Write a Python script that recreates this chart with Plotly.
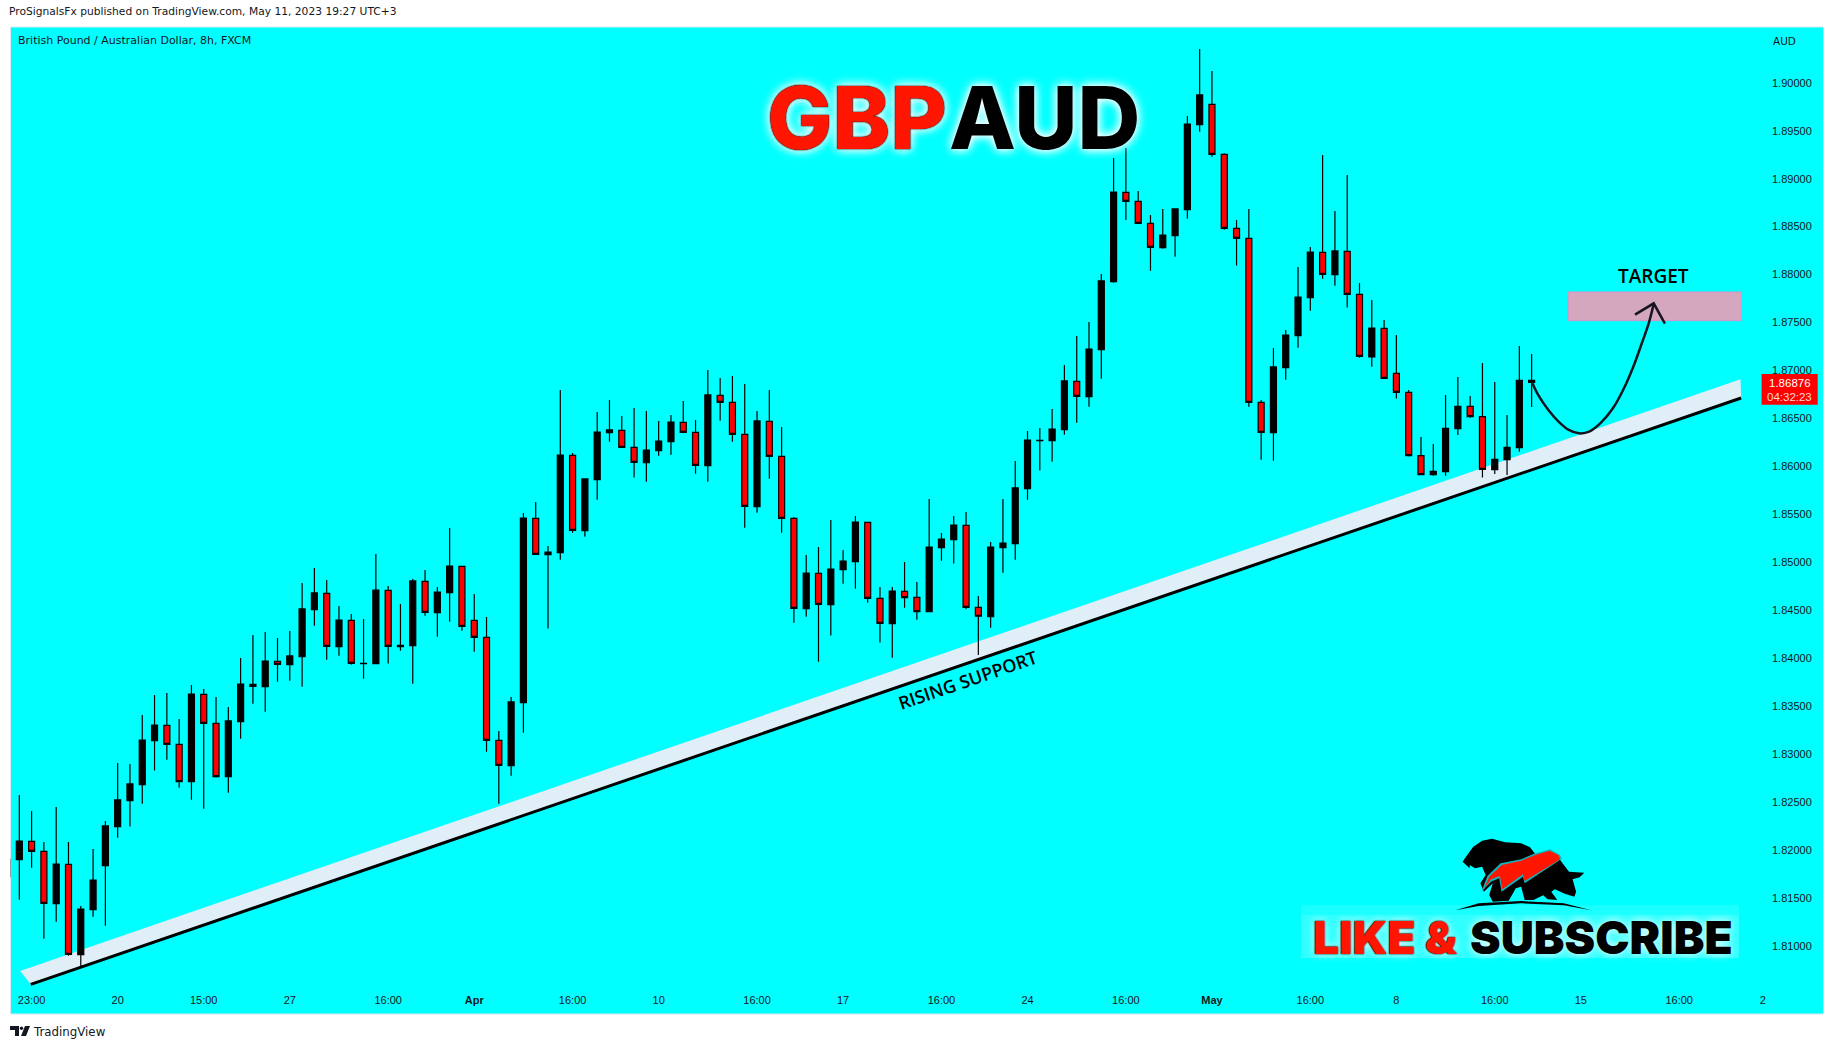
import plotly.graph_objects as go

# Candles: wick top, body top, body bottom, wick bottom, direction (1 = black/up, 0 = red/down)
highs = [1.81901,1.82572,1.82405,1.82082,1.82447,1.82082,1.81414,1.82009,1.82301,1.82906,1.82895,1.83406,1.83615,1.83636,1.83364,1.83719,1.83677,1.83594,1.83490,1.84001,1.84241,1.84272,1.84209,1.84282,1.84783,
1.84939,1.84814,1.84543,1.84460,1.84407,1.85085,1.84752,1.84564,1.84825,1.84918,1.84741,1.85357,1.84960,1.84668,1.84428,1.83239,1.83594,1.85513,1.85628,1.85169,1.86796,1.86139,1.85868,1.86566,1.86692,
1.86525,1.86608,1.86577,1.86473,1.86535,1.86681,1.86483,1.87004,1.86921,1.86942,1.86858,1.86577,1.86796,1.86410,1.85471,1.85075,1.85158,1.85440,1.85127,1.85482,1.85419,1.84741,1.84741,1.85002,1.84793,
1.85659,1.85304,1.85482,1.85523,1.84647,1.85211,1.85659,1.86055,1.86368,1.86400,1.86598,1.87057,1.87359,1.87505,1.88006,1.89216,1.89320,1.88871,1.88621,1.88684,1.88684,1.89654,1.90352,1.90123,1.89264,
1.88569,1.88684,1.86692,1.87234,1.87422,1.88079,1.88287,1.89247,1.88663,1.89038,1.87912,1.87735,1.87526,1.87370,1.86796,1.86306,1.86233,1.86744,1.86931,1.86733,1.87078,1.86879,1.86535,1.87255,1.87171]
body_tops = [1.81901,1.82092,1.82089,1.81984,1.81852,1.81849,1.81383,1.81685,1.82249,1.82520,1.82687,1.83145,1.83302,1.83298,1.83100,1.83625,1.83622,1.83319,1.83344,1.83729,1.83726,1.83969,1.83966,1.84022,1.84512,
1.84679,1.84675,1.84397,1.84394,1.83945,1.84710,1.84706,1.84133,1.84804,1.84800,1.84689,1.84960,1.84957,1.84394,1.84216,1.83142,1.83542,1.85461,1.85457,1.85106,1.86118,1.86114,1.85868,1.86358,1.86379,
1.86375,1.86198,1.86170,1.86264,1.86462,1.86459,1.86354,1.86744,1.86740,1.86667,1.86333,1.86473,1.86469,1.86104,1.85457,1.84887,1.84884,1.84929,1.85012,1.85419,1.85416,1.84623,1.84699,1.84696,1.84633,
1.85158,1.85242,1.85388,1.85384,1.84529,1.85158,1.85200,1.85774,1.86274,1.86271,1.86389,1.86890,1.86886,1.87223,1.87933,1.88861,1.88857,1.88764,1.88534,1.88412,1.88684,1.89570,1.89873,1.89775,1.89254,
1.88482,1.88378,1.86667,1.87036,1.87369,1.87766,1.88235,1.88232,1.88246,1.88242,1.87794,1.87442,1.87439,1.86970,1.86772,1.86111,1.85948,1.86396,1.86626,1.86626,1.86518,1.86073,1.86198,1.86897,1.86897]
body_bottoms = [1.81720,1.81897,1.81984,1.81442,1.81438,1.80910,1.80906,1.81376,1.81835,1.82242,1.82513,1.82680,1.83138,1.83100,1.82711,1.82711,1.83319,1.82763,1.82763,1.83337,1.83705,1.83702,1.83935,1.83931,1.84015,
1.84505,1.84122,1.84119,1.83945,1.83942,1.83942,1.84122,1.84119,1.84129,1.84477,1.84473,1.84682,1.84331,1.84216,1.83142,1.82881,1.82878,1.83535,1.85082,1.85078,1.85099,1.85332,1.85329,1.85861,1.86351,
1.86198,1.86041,1.86038,1.86163,1.86257,1.86354,1.86010,1.86007,1.86667,1.86333,1.85583,1.85579,1.86104,1.85457,1.84519,1.84515,1.84560,1.84557,1.84922,1.85005,1.84623,1.84362,1.84359,1.84630,1.84484,
1.84484,1.85151,1.85235,1.84529,1.84436,1.84431,1.85151,1.85193,1.85767,1.86267,1.86267,1.86382,1.86730,1.86726,1.87217,1.87926,1.88764,1.88534,1.88284,1.88280,1.88405,1.88677,1.89563,1.89254,1.88482,
1.88378,1.86667,1.86354,1.86351,1.87029,1.87363,1.87759,1.88002,1.87999,1.87794,1.87147,1.87140,1.86918,1.86772,1.86111,1.85913,1.85913,1.85944,1.86393,1.86518,1.85968,1.85965,1.86069,1.86194,1.86876]
lows = [1.81720,1.81480,1.81814,1.81073,1.81251,1.80896,1.80788,1.81303,1.81209,1.82127,1.82242,1.82481,1.82826,1.82940,1.82648,1.82523,1.82429,1.82753,1.82596,1.83159,1.83524,1.83441,1.83754,1.83764,1.83702,
1.84338,1.83983,1.84025,1.83931,1.83785,1.83942,1.83942,1.84077,1.83733,1.84442,1.84223,1.84380,1.84286,1.84067,1.83024,1.82481,1.82773,1.83222,1.85082,1.84307,1.85026,1.85308,1.85266,1.85652,1.86257,
1.86198,1.85882,1.85840,1.86111,1.86121,1.86354,1.85923,1.85840,1.86476,1.86257,1.85360,1.85516,1.85871,1.85308,1.84369,1.84432,1.83962,1.84234,1.84776,1.84724,1.84578,1.84161,1.84004,1.84526,1.84400,
1.84484,1.85016,1.84985,1.84510,1.84032,1.84317,1.84891,1.85026,1.85652,1.85955,1.86048,1.86330,1.86455,1.86622,1.86914,1.87915,1.88569,1.88534,1.88040,1.88270,1.88186,1.88583,1.89490,1.89229,1.88468,
1.88093,1.86622,1.86069,1.86059,1.86904,1.87237,1.87623,1.87957,1.87884,1.87655,1.87133,1.87039,1.86918,1.86706,1.86101,1.85906,1.85902,1.85902,1.86327,1.86507,1.85882,1.85920,1.85909,1.86153,1.86619]
is_up = [1,1,0,0,1,0,1,1,1,1,1,1,1,0,0,1,0,0,1,1,0,1,0,1,1,
1,0,1,0,1,1,0,1,1,0,1,1,0,0,0,0,1,1,0,1,1,0,1,1,1,
0,0,1,1,1,0,0,1,0,0,0,1,0,0,0,1,0,1,1,1,0,0,1,0,0,
1,1,1,0,0,1,1,1,1,1,1,1,0,1,1,1,0,0,0,1,1,1,1,0,0,
0,0,0,1,1,1,1,0,1,0,0,1,0,0,0,0,1,1,1,0,0,1,1,1,0]
bar_index = list(range(len(highs)))
opens = [b if u else t for t, b, u in zip(body_tops, body_bottoms, is_up)]
closes = [t if u else b for t, b, u in zip(body_tops, body_bottoms, is_up)]

tick_vals = [2,9,16,23,31,38,46,53,61,68,76,83,91,98,106,113,121,128,136,142.8]
tick_text = ["23:00","20","15:00","27","16:00","<b>Apr</b>","16:00","10","16:00","17","16:00","24","16:00","<b>May</b>","16:00","8","16:00","15","16:00","2"]
price_ticks = [1.81,1.815,1.82,1.825,1.83,1.835,1.84,1.845,1.85,1.855,1.86,1.865,1.87,1.875,1.88,1.885,1.89,1.895,1.90]

band_x = [1.06,140.99,141.04,1.93]
band_y = [1.80736,1.86907,1.86712,1.80597]
support_x = [1.93,141.04]
support_y = [1.80597,1.86712]
target_x = [126.96,141.04,141.04,126.96]
target_y = [1.87818,1.87818,1.87519,1.87519]
curve_x = [124.03,124.53,125.36,126.19,127.02,127.85,128.68,129.64,130.61,131.44,132.27,132.96,133.52,133.93]
curve_y = [1.86876,1.86744,1.86587,1.86466,1.86379,1.86344,1.86361,1.86455,1.86605,1.86796,1.87039,1.87283,1.87491,1.87693]
head_x = [132.41,133.93,134.84]
head_y = [1.87582,1.87700,1.87488]

W, H = 1834, 1050
def px(x): return x / W
def py(y): return 1 - y / H
def poly(pts, ox=1280, oy=820, sx=2.82, sy=3):
    out = []
    for i, (a, b) in enumerate(pts):
        out.append(("M" if i == 0 else "L") + f"{px(ox + a / sx):.5f} {py(oy + b / sy):.5f}")
    return " ".join(out) + " Z"
def data_path(xs, ys):
    return " ".join(("M" if i == 0 else "L") + f"{a} {b}" for i, (a, b) in enumerate(zip(xs, ys))) + " Z"

fig = go.Figure()
fig.add_trace(go.Candlestick(x=bar_index, open=opens, high=highs, low=lows, close=closes,
    increasing=dict(line=dict(color="#000000", width=1.2), fillcolor="#000000"),
    decreasing=dict(line=dict(color="#000000", width=1.2), fillcolor="#ff0000"),
    whiskerwidth=0, hoverinfo="skip"))
fig.add_trace(go.Scatter(x=support_x, y=support_y, mode="lines", line=dict(color="#000000", width=3), hoverinfo="skip"))
fig.add_trace(go.Scatter(x=curve_x, y=curve_y, mode="lines", line=dict(color="#15151f", width=2.5, shape="spline"), hoverinfo="skip"))
fig.add_trace(go.Scatter(x=head_x, y=head_y, mode="lines", line=dict(color="#15151f", width=2.5), hoverinfo="skip"))

UI = "DejaVu Sans"
def note(x, y, text, size=10, color="#131722", anchor="left", family=UI, weight=None, shadow=None, angle=0):
    f = dict(family=family, size=size, color=color)
    if weight: f["weight"] = weight
    if shadow: f["shadow"] = shadow
    fig.add_annotation(x=px(x), y=py(y), xref="paper", yref="paper", text=text, showarrow=False,
                       xanchor=anchor, yanchor="middle", font=f, textangle=angle, borderpad=0, borderwidth=0)

note(9, 11, "ProSignalsFx published on TradingView.com, May 11, 2023 19:27 UTC+3", size=10.7)
note(18, 41, "British Pound / Australian Dollar, 8h, FXCM", size=11)
note(1773, 41, "AUD", size=10.5)
note(33, 1032, "TradingView", size=11.8)

glow = "0 0 1px #000, 0 0 2px #222, 0 0 8px #fff, 0 0 12px #fff"
note(947, 117, "GBP", size=87, color="#ff1500", anchor="right", family="Inter", weight=800, shadow=glow)
note(949, 117, "AUD", size=87, color="#000000", family="Inter", weight=800, shadow="0 0 8px #fff, 0 0 12px #fff")
note(1653.8, 276, "TARGET", size=19, color="#000000", anchor="center", family="Open Sans", weight=600)
note(967, 680, "RISING SUPPORT", size=18, color="#000000", anchor="center", family="Open Sans", weight=600, angle=-19)

glow2 = "0 0 1px #000, 0 0 2px #222, 0 0 8px #fff"
note(1458.4, 937, "LIKE &amp;", size=46, color="#ff1500", anchor="right", family="Inter", weight=900, shadow=glow2)
note(1469.7, 937, "SUBSCRIBE", size=46, color="#000000", family="Inter", weight=900, shadow="0 0 8px #fff")

note(1789.5, 382.7, "1.86876", size=11.5, color="#ffffff", anchor="center", family="Liberation Sans")
note(1789.5, 396.7, "04:32:23", size=11.5, color="#ffd8d8", anchor="center", family="Liberation Sans")

shapes = [
    dict(type="rect", xref="paper", yref="paper", x0=px(10.5), x1=px(1823.5), y0=py(1014), y1=py(27),
         fillcolor="#00ffff", line=dict(color="#d8e8ee", width=1), layer="below"),
    dict(type="path", xref="x", yref="y", path=data_path(band_x, band_y), fillcolor="#e0eef8", line=dict(width=0), layer="below"),
    dict(type="path", xref="x", yref="y", path=data_path(target_x, target_y), fillcolor="#d4a7bf", line=dict(width=1, color="#d890c8"), layer="below"),
    dict(type="rect", xref="paper", yref="paper", x0=px(1301), x1=px(1739), y0=py(958), y1=py(905),
         fillcolor="rgba(255,255,255,0.10)", line=dict(width=0), layer="below"),
    dict(type="rect", xref="paper", yref="paper", x0=px(1301), x1=px(1739), y0=py(958), y1=py(915),
         fillcolor="rgba(255,255,255,0.10)", line=dict(width=0), layer="below"),
    dict(type="rect", xref="paper", yref="paper", x0=px(1761.6), x1=px(1817.7), y0=py(404.7), y1=py(374),
         fillcolor="#ff0000", line=dict(width=0), layer="above"),
]
silhouette = [(515,125),(528,105),(545,80),(570,62),(598,56),(635,67),(680,70),(705,82),(722,105),(760,105),(790,120),(815,155),(858,158),(845,172),(825,178),(835,215),(830,230),(805,222),(775,208),(765,215),(782,240),(755,238),(742,226),(715,240),(690,240),(680,200),(665,205),(645,242),(600,245),(590,225),(600,190),(575,215),(565,190),(580,165),(570,140),(550,145),(535,135),(535,145)]
arrow_outline = [(568,215),(585,168),(622,130),(680,118),(720,100),(762,88),(790,105),(795,116),(690,190),(685,170),(625,215),(618,175),(595,185)]
arrow_fill = [(575,208),(590,170),(625,135),(680,122),(720,105),(760,92),(785,105),(790,118),(690,183),(685,163),(627,208),(620,168),(595,178)]
crescent = [(495,271),(560,250),(680,243),(800,250),(878,271),(800,256),(680,250),(560,258)]
for pts, col in [(silhouette, "#000000"), (arrow_outline, "#14b4bc"), (arrow_fill, "#ff1500"), (crescent, "#000000")]:
    shapes.append(dict(type="path", xref="paper", yref="paper", path=poly(pts), fillcolor=col, line=dict(width=0), layer="above"))
# footer logo
logo = [[(10,1026),(19,1026),(19,1036),(15,1036),(15,1030),(10,1030)], [(25,1026),(30,1026),(26,1036),(21,1036)]]
for pts in logo:
    shapes.append(dict(type="path", xref="paper", yref="paper", path=poly(pts, 0, 0, 1, 1), fillcolor="#131722", line=dict(width=0), layer="above"))
shapes.append(dict(type="circle", xref="paper", yref="paper", x0=px(19.8), x1=px(23.2), y0=py(1030), y1=py(1026.6), fillcolor="#131722", line=dict(width=0), layer="above"))

fig.update_layout(
    width=W, height=H, autosize=False, showlegend=False,
    paper_bgcolor="#ffffff", plot_bgcolor="#00ffff",
    margin=dict(l=0, r=0, t=0, b=0),
    font=dict(family="Liberation Sans", color="#131722", size=11),
    shapes=shapes,
    xaxis=dict(domain=[px(10.5), px(1765)], range=[0.284, 142.98], tickmode="array", tickvals=tick_vals, ticktext=tick_text,
               showgrid=False, zeroline=False, showline=False, ticks="", ticklabelstandoff=4, rangeslider=dict(visible=False),
               tickangle=0, tickfont=dict(family="Liberation Sans", size=11, color="#131722"), automargin=False),
    yaxis=dict(domain=[py(988), py(27)], range=[1.805588, 1.905818], side="right", tickmode="array", tickvals=price_ticks,
               tickformat=".5f", showgrid=False, zeroline=False, showline=False, ticks="", ticklabelstandoff=6,
               tickfont=dict(family="Liberation Sans", size=11, color="#131722"), automargin=False),
)
fig.write_html("out.html", config={"displayModeBar": False}, post_script="document.body.style.margin='0';document.body.style.overflow='hidden';")
